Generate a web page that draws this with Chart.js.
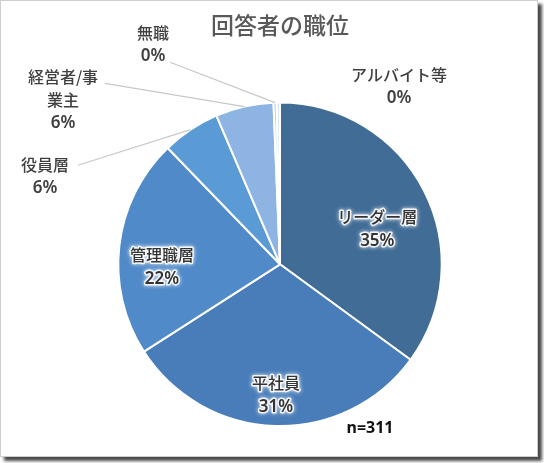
<!DOCTYPE html>
<html><head><meta charset="utf-8">
<script src="https://cdn.jsdelivr.net/npm/chart.js@4.4.1/dist/chart.umd.min.js"></script>
<style>
html,body{margin:0;padding:0;background:#fff;}
#frame{position:absolute;left:0;top:0;width:536px;height:455px;border:1px solid #cfcfcf;box-shadow:4px 4px 3px #4a4a4a;background:#fff;}
canvas{position:absolute;left:0;top:0;}
</style></head>
<body>
<div id="frame"></div>
<canvas id="c" width="544" height="463"></canvas>
<script>
const categories = ['リーダー層','平社員','管理職層','役員層','経営者/事業主','無職','アルバイト等'];
const counts = [109, 96, 68, 18, 18, 1, 1];
const percentLabels = ['35%','31%','22%','6%','6%','0%','0%'];
const colors = ['#416c96','#497db9','#508ac8','#5b9bd5','#8eb4e3','#bed4ee','#dce6f2'];

// label placement: inside labels by radial fraction; outside labels by offset from centre
const labelCfg = [
  {inside:true, f:0.64, da:7},
  {inside:true, f:0.81, da:0},
  {inside:true, f:0.73, da:-8},
  {inside:false, lines:['役員層'], tx:-235, ty:-99, lx:-202, ly:-99},
  {inside:false, lines:['経営者/事','業主'], tx:-217, ty:-187, lx:-175, ly:-181},
  {inside:false, lines:['無職'], tx:-127, ty:-231, lx:-110, ly:-202},
  {inside:false, lines:['アルバイト等'], tx:119, ty:-189, lx:null}
];

const labelPlugin = {
  id:'sliceLabels',
  afterDatasetsDraw(chart){
    const ctx = chart.ctx;
    const meta = chart.getDatasetMeta(0);
    const font = '500 16px "Noto Sans CJK JP", "Noto Sans", sans-serif';
    const pfont = '600 17px "Noto Sans", "Noto Sans CJK JP", sans-serif';
    meta.data.forEach((arc,i)=>{
      const p = arc.getProps(['x','y','startAngle','endAngle','outerRadius'],true);
      const cfg = labelCfg[i];
      const mid = (p.startAngle+p.endAngle)/2;
      ctx.save();
      ctx.textAlign='center';
      ctx.textBaseline='middle';
      if(cfg.inside){
        const a = mid + cfg.da*Math.PI/180;
        const x = p.x + Math.cos(a)*p.outerRadius*cfg.f;
        const y = p.y + Math.sin(a)*p.outerRadius*cfg.f;
        const lines=[categories[i], percentLabels[i]];
        lines.forEach((t,k)=>{
          ctx.font = k===0?font:pfont;
          const yy = y - 12 + k*24;
          ctx.shadowColor='rgba(255,255,255,1)';
          ctx.shadowBlur=4;
          ctx.lineJoin='round';
          ctx.strokeStyle='rgba(255,255,255,0.85)';
          ctx.lineWidth=3;
          ctx.strokeText(t,x,yy);
          ctx.shadowBlur=0;
          ctx.fillStyle='#333333';
          ctx.fillText(t,x,yy);
        });
      } else {
        const ex = p.x + Math.cos(mid)*p.outerRadius;
        const ey = p.y + Math.sin(mid)*p.outerRadius;
        if(cfg.lx!==null){
          ctx.strokeStyle='#c8c8c8';
          ctx.lineWidth=1.2;
          ctx.beginPath();
          ctx.moveTo(p.x+cfg.lx, p.y+cfg.ly);
          ctx.lineTo(ex,ey);
          ctx.stroke();
        }
        const lines = cfg.lines.concat([percentLabels[i]]);
        ctx.fillStyle='#404040';
        lines.forEach((t,k)=>{
          ctx.font = k===lines.length-1?pfont:font;
          ctx.fillText(t, p.x+cfg.tx, p.y+cfg.ty + k*23);
        });
      }
      ctx.restore();
    });
    // n label
    const a0 = meta.data[0];
    ctx.save();
    ctx.font='bold 16px "Noto Sans", "Noto Sans CJK JP", sans-serif';
    ctx.fillStyle='#111';
    ctx.textAlign='center';
    ctx.textBaseline='middle';
    ctx.fillText('n=311', a0.x+90, a0.y+164);
    ctx.restore();
  }
};

new Chart(document.getElementById('c'),{
  type:'pie',
  data:{labels:categories,datasets:[{data:counts,backgroundColor:colors,borderColor:'#ffffff',borderWidth:2,hoverOffset:0}]},
  options:{
    responsive:false,animation:false,
    layout:{padding:{left:117,right:101,top:0,bottom:36}},
    plugins:{
      legend:{display:false},tooltip:{enabled:false},
      title:{display:true,text:'回答者の職位',color:'#595959',
        font:{family:'"Noto Sans CJK JP", sans-serif',size:23,weight:'500'},
        padding:{top:11,bottom:63}}
    }
  },
  plugins:[labelPlugin]
});
</script>
</body></html>
